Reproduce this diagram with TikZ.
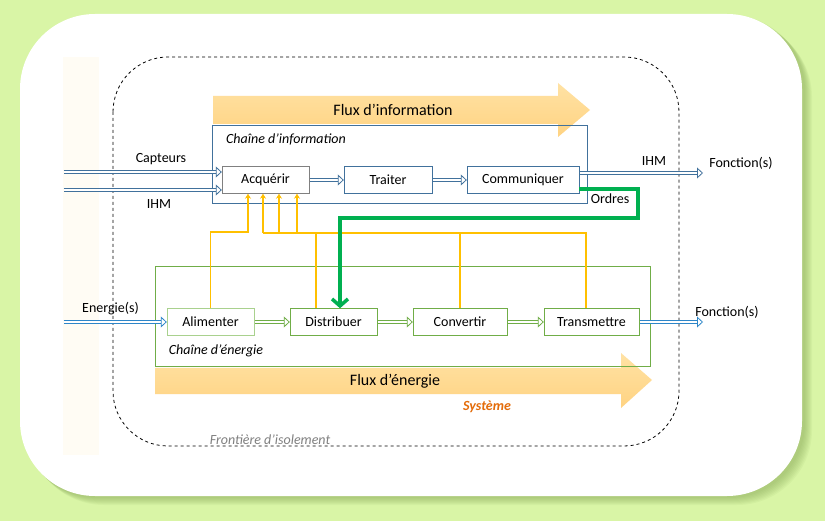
\documentclass[tikz,border=0pt]{standalone}
\usepackage{fontspec}
\setmainfont{Carlito}
\usetikzlibrary{arrows.meta}
\definecolor{fond}{HTML}{D9F5A6}
\definecolor{ombre}{HTML}{7FA050}
\definecolor{bande}{HTML}{FFFCF4}
\definecolor{bleu}{HTML}{41719C}
\definecolor{bleuclair}{HTML}{2E86C8}
\definecolor{vert}{HTML}{70AD47}
\definecolor{vertclair}{HTML}{A9D18E}
\definecolor{jaune}{HTML}{FFC000}
\definecolor{ordres}{HTML}{00B050}
\definecolor{fluxhaut}{HTML}{FFE2A4}
\definecolor{fluxbas}{HTML}{FFD382}
\definecolor{sysorange}{HTML}{E46C0A}
\tikzset{
  txt/.style={font=\fontsize{14}{16}\selectfont},
  txtit/.style={font=\fontsize{14}{16}\selectfont\itshape},
  bloc/.style={draw, fill=white, minimum height=27pt, inner sep=0pt, txt},
  blocinfo/.style={bloc, draw=bleu},
  blocener/.style={bloc, draw=vert},
  dbl/.style={shorten <=.6pt,
    preaction={draw=#1, line width=3.6pt, -, shorten >=6pt},
    draw=white, line width=2.2pt,
    -{Triangle[open, color=#1, fill=white, line width=.8pt, length=6pt, width=11pt]}},
  flux/.style={top color=fluxhaut, bottom color=fluxbas, draw=none},
  alim/.style={draw=jaune, line width=1.1pt},
  alimfl/.style={alim, -{Stealth[length=5pt,width=6pt]}}
}
\begin{document}
\begin{tikzpicture}[x=1pt,y=-1pt]
  \useasboundingbox (0,0) rectangle (825,521);
  \fill[fond] (0,0) rectangle (825,521);
  \foreach \i in {1,...,8}
    \fill[ombre, opacity=.07, rounded corners=75pt] (21+\i,14+\i) rectangle (804+\i,497+\i);
  \fill[white, rounded corners=75pt] (20,14) rectangle (802,496);
  \fill[bande] (63,57) rectangle (99,455);
  \draw [dashed, line width=.8pt, rounded corners=55pt] (113,57) rectangle (679,446);

  \shade[flux] (213,96) -- (558,96) -- (558,83) -- (590,110) -- (558,137) -- (558,124) -- (213,124) -- cycle;
  \shade[flux] (155,368) -- (621,368) -- (621,353) -- (652,380) -- (621,408) -- (621,394) -- (155,394) -- cycle;
  \node (fluxinfo) at (393,110) [font=\fontsize{16}{18}\selectfont] {Flux d’information};
  \node (fluxener) at (395,381) [font=\fontsize{16}{18}\selectfont] {Flux d’énergie};

  \draw [bleu, line width=.8pt] (212,125) rectangle (587,203);
  \draw [vert, line width=.8pt] (155,266) rectangle (650,366);
  \node (chinfo) at (286,139) [txtit] {Chaîne d’information};
  \node (chener) at (216,351) [txtit] {Chaîne d’énergie};

  \node (acq) at (265.5,180) [bloc, draw=gray, minimum width=87pt] {Acquérir};
  \node (trait) at (388,180) [blocinfo, minimum width=88pt] {Traiter};
  \node (comm) at (523,180) [blocinfo, minimum width=112pt] {Communiquer};

  \node (alim) at (210.5,322) [bloc, draw=vertclair, minimum width=87pt] {Alimenter};
  \node (dist) at (333.5,322) [blocener, minimum width=87pt] {Distribuer};
  \node (conv) at (460,322) [blocener, minimum width=94pt] {Convertir};
  \node (trans) at (591.5,322) [blocener, minimum width=95pt] {Transmettre};

  \coordinate (capin) at (63,172);
  \coordinate (ihmin) at (63,190);
  \coordinate (enin) at (63,322);
  \coordinate (ihmout) at (703,173);
  \coordinate (fctout) at (703,322);
  \draw [dbl=bleu] (capin) -- (capin -| acq.west);
  \draw [dbl=bleu] (ihmin) -- (ihmin -| acq.west);
  \draw [dbl=bleu] (acq) -- (trait);
  \draw [dbl=bleu] (trait) -- (comm);
  \draw [dbl=bleu] (ihmout -| comm.east) -- (ihmout);
  \draw [dbl=bleuclair] (enin) -- (alim);
  \draw [dbl=vert] (alim) -- (dist);
  \draw [dbl=vert] (dist) -- (conv);
  \draw [dbl=vert] (conv) -- (trans);
  \draw [dbl=bleuclair] (trans) -- (fctout);

  \node (capteurs) at (161,159) [txt] {Capteurs};
  \node (ihmg) at (159,204) [txt] {IHM};
  \node (ihmd) at (654,161) [txt] {IHM};
  \node (fct1) at (741,163) [txt] {Fonction(s)};
  \node (energies) at (110.5,309) [txt] {Energie(s)};
  \node (fct2) at (727,312) [txt] {Fonction(s)};
  \node (ordres) at (610,199) [txt] {Ordres};

  \coordinate (alimcoin) at (248,232);
  \coordinate (busg) at (263,233);
  \coordinate (busd) at (586,233);
  \draw [alimfl] (alim.north) |- (alimcoin) -- (alimcoin |- acq.south);
  \draw [alim] (busg) -- (busd) -- (busd |- trans.north);
  \draw [alim] (316,233) -- (316,0 |- dist.north);
  \draw [alim] (conv.north) -- (conv.north |- busd);
  \draw [alimfl] (busg) -- (busg |- acq.south);
  \draw [alimfl] (279,233) -- (279,0 |- acq.south);
  \draw [alimfl] (297,233) -- (297,0 |- acq.south);

  \coordinate (ordcoin) at (638,189);
  \draw [ordres, line width=3.5pt, -{Straight Barb[length=7pt,width=16pt]}]
    (ordcoin -| comm.east) -- (ordcoin) -- (638,218) -- (340,218) -- (340,0 |- dist.north);

  \node (frontiere) at (270,440) [txtit, text=gray] {Frontière d’isolement};
  \node (systeme) at (487,407) [text=sysorange, font=\fontsize{14}{16}\selectfont\bfseries\itshape] {Système};
\end{tikzpicture}
\end{document}
